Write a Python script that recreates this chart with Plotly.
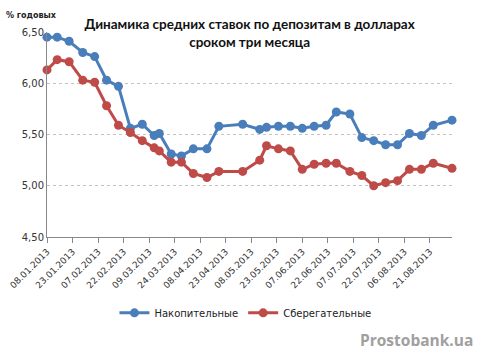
import plotly.graph_objects as go

dates = ["2013-01-08", "2013-01-14", "2013-01-21", "2013-01-29", "2013-02-05", "2013-02-12",
         "2013-02-19", "2013-02-26", "2013-03-05", "2013-03-12", "2013-03-15", "2013-03-22",
         "2013-03-28", "2013-04-04", "2013-04-12", "2013-04-19", "2013-05-03", "2013-05-13",
         "2013-05-17", "2013-05-24", "2013-05-31", "2013-06-07", "2013-06-14", "2013-06-21",
         "2013-06-27", "2013-07-05", "2013-07-12", "2013-07-19", "2013-07-26", "2013-08-02",
         "2013-08-09", "2013-08-16", "2013-08-23", "2013-09-03"]

nakopitelnye = [6.45, 6.45, 6.41, 6.30, 6.26, 6.03, 5.97, 5.56, 5.60, 5.49, 5.51, 5.31,
                5.29, 5.36, 5.36, 5.58, 5.60, 5.55, 5.57, 5.58, 5.58, 5.56, 5.58, 5.59,
                5.72, 5.70, 5.47, 5.44, 5.40, 5.40, 5.51, 5.49, 5.59, 5.64]

sberegatelnye = [6.13, 6.23, 6.21, 6.03, 6.01, 5.78, 5.59, 5.52, 5.44, 5.37, 5.34, 5.23,
                 5.23, 5.12, 5.08, 5.14, 5.14, 5.25, 5.39, 5.36, 5.34, 5.16, 5.21, 5.22,
                 5.22, 5.14, 5.10, 5.00, 5.03, 5.05, 5.16, 5.16, 5.22, 5.17]

series_names = ["Накопительные", "Сберегательные"]
colors = ["#4A7EBB", "#BE4B48"]

title_text = "Динамика средних ставок по депозитам в долларах<br>сроком три месяца"
y_unit = "% годовых"
watermark = "Prostobank.ua"

fig = go.Figure()
for name, vals, col in zip(series_names, [nakopitelnye, sberegatelnye], colors):
    fig.add_trace(go.Scatter(
        x=dates, y=vals, name=name, mode="lines+markers",
        line=dict(color=col, width=3),
        marker=dict(color=col, size=9, symbol="circle"),
        cliponaxis=False,
    ))

fig.update_layout(
    width=480, height=363,
    margin=dict(l=47, r=28, t=32, b=126, autoexpand=False),
    paper_bgcolor="white", plot_bgcolor="white",
    separators=", ",
    showlegend=True,
    legend=dict(orientation="h", x=0.49, xanchor="center", y=-0.37, yanchor="middle",
                font=dict(family="DejaVu Sans", size=10, color="#222222"),
                itemwidth=30, traceorder="normal"),
    title=dict(text="<b>" + title_text + "</b>", x=0.52, xanchor="center",
               y=0.919, yanchor="middle",
               font=dict(family="Lato", size=13.5, color="#111111")),
    xaxis=dict(
        type="date", automargin=False,
        range=["2013-01-08", "2013-09-03"],
        tick0="2013-01-08", dtick=15 * 86400000,
        tickformat="%d.%m.%Y", tickangle=-45,
        showline=True, linecolor="#888888", linewidth=1,
        ticks="outside", ticklen=5, tickcolor="#888888",
        showgrid=False, zeroline=False,
        tickfont=dict(family="DejaVu Sans", size=9, color="#333333"),
    ),
    yaxis=dict(
        automargin=False,
        range=[4.5, 6.5], dtick=0.5, tick0=4.5, tickformat=".2f",
        showline=True, linecolor="#888888", linewidth=1,
        ticks="", showgrid=True, gridcolor="#C4C4C4", griddash="dot", gridwidth=1,
        zeroline=False,
        tickfont=dict(family="DejaVu Sans", size=10, color="#333333"),
    ),
    annotations=[
        dict(text="<b>" + y_unit + "</b>", xref="paper", yref="paper", x=-0.105, y=1.08,
             xanchor="left", yanchor="middle", showarrow=False,
             font=dict(family="DejaVu Sans", size=8, color="#222222")),
        dict(text="<b>" + watermark + "</b>", xref="paper", yref="paper", x=1.058, y=-0.5,
             xanchor="right", yanchor="middle", showarrow=False,
             font=dict(family="Open Sans", size=15.5, color="#A0A0A0")),
    ],
)

fig.write_html("out.html", config={"displayModeBar": False},
               post_script="document.body.style.margin='0';document.body.style.padding='0';")
